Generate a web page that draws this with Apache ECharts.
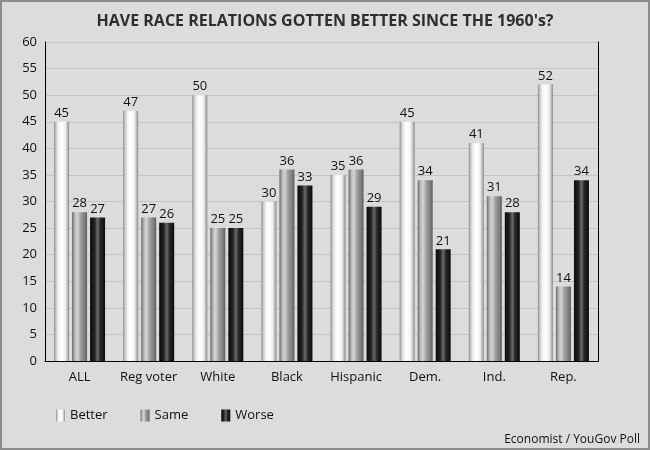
<!DOCTYPE html>
<html><head><meta charset="utf-8">
<script src="https://cdn.jsdelivr.net/npm/echarts@6/dist/echarts.min.js"></script>
<style>html,body{margin:0;padding:0;background:#dcdcdc;}#c{width:650px;height:450px;box-sizing:border-box;border:2px solid #8c8c8c;}</style>
</head><body><div id="c"></div>
<script>
var categories = ['ALL','Reg voter','White','Black','Hispanic','Dem.','Ind.','Rep.'];
var better = [45,47,50,30,35,45,41,52];
var same = [28,27,25,36,36,34,31,14];
var worse = [27,26,25,33,29,21,28,34];
var yTicks = {min:0, max:60, interval:5};

function grad(stops){
  return new echarts.graphic.LinearGradient(0,0,1,0, stops.map(function(s){return {offset:s[0],color:s[1]};}));
}
var gBetter = grad([[0,'#8a8a8a'],[0.12,'#c8c8c8'],[0.3,'#f4f4f4'],[0.5,'#ffffff'],[0.75,'#f0f0f0'],[0.88,'#bdbdbd'],[1,'#8a8a8a']]);
var gSame = grad([[0,'#6a6a6a'],[0.2,'#bcbcbc'],[0.35,'#d4d4d4'],[0.6,'#9a9a9a'],[0.85,'#7c7c7c'],[1,'#5c5c5c']]);
var gWorse = grad([[0,'#0c0c0c'],[0.3,'#222222'],[0.5,'#6a6a6a'],[0.7,'#262626'],[1,'#0c0c0c']]);

var chart = echarts.init(document.getElementById('c'), null, {renderer:'canvas'});
var font = '"Open Sans", "DejaVu Sans", sans-serif';
var txt = '#111111';
var lbl = {show:true, position:'top', distance:2, color:txt, fontSize:13, fontFamily:font};
function s(name, data, color){
  return {name:name, type:'bar', data:data, barWidth:15, barGap:'20%',
    itemStyle:{color:color}, label:lbl, emphasis:{disabled:true}};
}
chart.setOption({
  animation:false,
  backgroundColor:'#dcdcdc',
  textStyle:{fontFamily:font},
  title:{text:"HAVE RACE RELATIONS GOTTEN BETTER SINCE THE 1960's?", left:'center', top:6,
    textStyle:{fontSize:16, fontWeight:'bold', color:'#2e2e2e', fontFamily:font}},
  grid:{left:43, right:50, top:40, bottom:87},
  legend:{data:['Better','Same','Worse'], left:49, top:402, itemWidth:9, itemHeight:12, itemGap:33,
    textStyle:{fontSize:13, color:txt, fontFamily:font}, icon:'rect'},
  xAxis:[{type:'category', data:categories,
    axisLine:{lineStyle:{color:'#000'}}, axisTick:{show:false},
    axisLabel:{color:txt, fontSize:13, margin:10, interval:0, fontFamily:font}},
    {type:'category', position:'top', data:categories, axisLine:{show:true, lineStyle:{color:'#000'}}, axisTick:{show:false}, axisLabel:{show:false}}],
  yAxis:[{type:'value', min:yTicks.min, max:yTicks.max, interval:yTicks.interval,
    axisLine:{show:true, lineStyle:{color:'#000'}}, axisTick:{show:false},
    axisLabel:{color:txt, fontSize:13, margin:8, fontFamily:font},
    splitLine:{lineStyle:{color:'#c4c4c4'}}},
    {type:'value', position:'right', min:yTicks.min, max:yTicks.max, interval:yTicks.interval,
    axisLine:{show:true, lineStyle:{color:'#000'}}, axisTick:{show:false}, axisLabel:{show:false}, splitLine:{show:false}}],
  graphic:[{type:'text', right:8, bottom:2, style:{text:'Economist / YouGov Poll', fill:txt, font:'12px "Open Sans", sans-serif'}}],
  series:[s('Better',better,gBetter), s('Same',same,gSame), s('Worse',worse,gWorse)]
});
</script></body></html>
